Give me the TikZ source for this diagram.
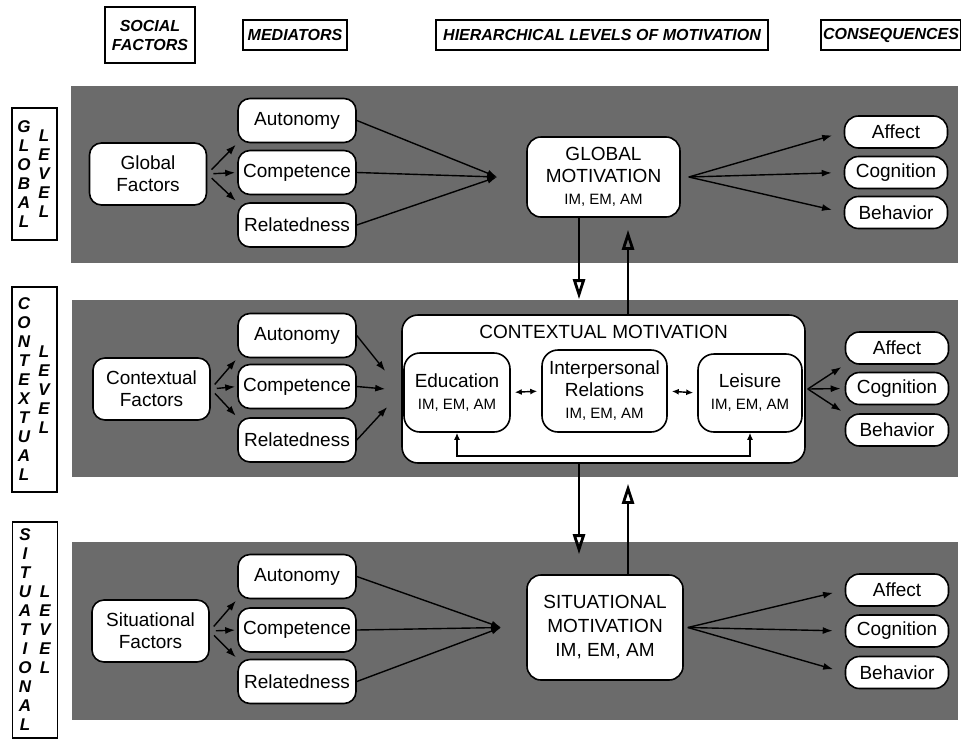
\documentclass[tikz,border=0pt]{standalone}
\usepackage{fontspec}
\setmainfont{Liberation Sans}
\usetikzlibrary{arrows.meta}

\tikzset{
  band/.style={fill=black!58},
  head/.style={draw, line width=0.8pt, align=center, inner sep=1pt,
    font=\fontsize{8}{9.5}\selectfont\bfseries\itshape},
  lvlbox/.style={draw, line width=0.8pt, fill=white, minimum width=22.5pt},
  lvltxt/.style={align=center, inner sep=0pt,
    font=\fontsize{8.5}{9.5}\selectfont\bfseries\itshape},
  box/.style={draw, fill=white, rounded corners=6pt, line width=0.8pt,
    align=center, inner sep=1pt, font=\fontsize{9.5}{11}\selectfont},
  fac/.style={box, minimum width=58.5pt, minimum height=31pt},
  med/.style={box, minimum width=59pt, minimum height=22pt},
  cons/.style={box, minimum width=51.5pt, minimum height=16pt, rounded corners=7pt},
  mot/.style={box, rounded corners=7pt},
  sub/.style={box, rounded corners=8pt},
  fan/.style={-{Latex[length=5pt,width=3.5pt]}, line width=0.7pt},
  twin/.style={{Latex[length=3.5pt,width=3pt]}-{Latex[length=3.5pt,width=3pt]}, line width=0.7pt},
  vflow/.style={-{Triangle[open,length=10pt,width=6pt]}, line width=1.4pt},
}

\begin{document}
\begin{tikzpicture}[x=0.5pt,y=-0.5pt]
  \useasboundingbox (0,0) rectangle (961,739);

  \node[head, minimum width=45pt, minimum height=28pt] (hsoc) at (150,35) {SOCIAL\\FACTORS};
  \node[head, minimum width=52pt, minimum height=15pt] (hmed) at (295,35) {MEDIATORS};
  \node[head, minimum width=166pt, minimum height=15pt] (hhier) at (602,35) {HIERARCHICAL LEVELS OF MOTIVATION};
  \node[head, minimum width=68pt, minimum height=15pt] (hcons) at (891,35) {CONSEQUENCES};

  \fill[band] (71,86) rectangle (958,263);
  \fill[band] (72,300) rectangle (958,477);
  \fill[band] (72,542) rectangle (958,720);

  \node[lvlbox, minimum height=66pt] (lglob) at (34.5,174) {};
  \node[lvltxt] (lglobA) at (24,174) {G\\L\\O\\B\\A\\L};
  \node[lvltxt] (lglobB) at (44,174) {L\\E\\V\\E\\L};
  \node[lvlbox, minimum height=102.5pt] (lctx) at (34.5,389.5) {};
  \node[lvltxt] (lctxA) at (24,389.5) {C\\O\\N\\T\\E\\X\\T\\U\\A\\L};
  \node[lvltxt] (lctxB) at (44,389.5) {L\\E\\V\\E\\L};
  \node[lvlbox, minimum height=108pt] (lsit) at (35,630) {};
  \node[lvltxt] (lsitA) at (25,630) {S\\I\\T\\U\\A\\T\\I\\O\\N\\A\\L};
  \node[lvltxt] (lsitB) at (45,630) {L\\E\\V\\E\\L};

  % global level
  \node[fac] (gfac) at (148,174) {Global\\Factors};
  \node[med] (gaut) at (297,120.5) {Autonomy};
  \node[med] (gcom) at (297,172.5) {Competence};
  \node[med] (grel) at (297,225) {Relatedness};
  \node[mot, minimum width=76.5pt, minimum height=40pt] (gm) at (603.5,177)
    {GLOBAL\\MOTIVATION\\{\fontsize{7.5}{9}\selectfont IM, EM, AM}};
  \node[cons] (gaff) at (896,132) {Affect};
  \node[cons] (gcog) at (896,172.5) {Cognition};
  \node[cons] (gbeh) at (896,212.5) {Behavior};
  \coordinate (gin) at ([xshift=-14.5pt]gm.west);
  \coordinate (gout) at ([xshift=4pt]gm.east);

  % contextual level
  \node[fac] (cfac) at (151.5,389) {Contextual\\Factors};
  \node[med] (caut) at (297,335.5) {Autonomy};
  \node[med] (ccom) at (297,386.5) {Competence};
  \node[med] (crel) at (297,440) {Relatedness};
  \node[box, rounded corners=8pt, minimum width=201.5pt, minimum height=74pt] (ctx) at (603.5,389) {};
  \node[font=\fontsize{9.5}{11}\selectfont] (ctit) at (603.5,332) {CONTEXTUAL MOTIVATION};
  \node[sub, minimum width=53pt, minimum height=39.5pt] (edu) at (457,392.5)
    {Education\\{\fontsize{7.5}{9}\selectfont IM, EM, AM}};
  \node[sub, minimum width=62.5pt, minimum height=41pt] (ipr) at (604.5,391)
    {Interpersonal\\Relations\\{\fontsize{7.5}{9}\selectfont IM, EM, AM}};
  \node[sub, minimum width=52pt, minimum height=39pt] (leis) at (750,393)
    {Leisure\\{\fontsize{7.5}{9}\selectfont IM, EM, AM}};
  \node[cons] (caff) at (897,348) {Affect};
  \node[cons] (ccog) at (897,388.5) {Cognition};
  \node[cons] (cbeh) at (897,430) {Behavior};
  \coordinate (cin1) at ([shift={(-8pt,9pt)}]ctx.west);
  \coordinate (cin2) at ([xshift=-8pt]ctx.west);
  \coordinate (cin3) at ([shift={(-7pt,-9pt)}]ctx.west);
  \coordinate (cout) at ([xshift=1pt]ctx.east);

  % situational level
  \node[fac] (sfac) at (150.5,631) {Situational\\Factors};
  \node[med] (saut) at (297,576.5) {Autonomy};
  \node[med] (scom) at (297,630) {Competence};
  \node[med] (srel) at (297,681.5) {Relatedness};
  \node[mot, minimum width=78pt, minimum height=52.5pt, font=\fontsize{9.5}{12}\selectfont] (sm) at (605,627.5)
    {SITUATIONAL\\MOTIVATION\\IM, EM, AM};
  \node[cons] (saff) at (897,590) {Affect};
  \node[cons] (scog) at (897,631) {Cognition};
  \node[cons] (sbeh) at (897,672.5) {Behavior};
  \coordinate (sin) at ([xshift=-12.5pt]sm.west);
  \coordinate (sout) at ([xshift=2pt]sm.east);

  \begin{scope}[fan, shorten <=3pt, shorten >=1pt]
    \draw (gfac.east) -- (gaut.south west);
    \draw (gfac.east) -- (gcom.west);
    \draw (gfac.east) -- (grel.north west);
    \draw (cfac.east) -- (caut.south west);
    \draw (cfac.east) -- (ccom.west);
    \draw (cfac.east) -- (crel.north west);
    \draw (sfac.east) -- (saut.south west);
    \draw (sfac.east) -- (scom.west);
    \draw (sfac.east) -- (srel.north west);
  \end{scope}

  \begin{scope}[fan]
    \draw (gaut.east) -- (gin);
    \draw (gcom.east) -- (gin);
    \draw (grel.east) -- (gin);
    \draw (caut.east) -- (cin1);
    \draw (ccom.east) -- (cin2);
    \draw (crel.east) -- (cin3);
    \draw (saut.east) -- (sin);
    \draw (scom.east) -- (sin);
    \draw (srel.east) -- (sin);
  \end{scope}

  \begin{scope}[fan, shorten >=6pt]
    \draw (gout) -- (gaff.west);
    \draw (gout) -- (gcog.west);
    \draw (gout) -- (gbeh.west);
    \draw (sout) -- (saff.west);
    \draw (sout) -- (scog.west);
    \draw (sout) -- (sbeh.west);
  \end{scope}

  \begin{scope}[fan, shorten >=2pt]
    \draw (cout) -- (caff.south west);
    \draw (cout) -- (ccog.west);
    \draw (cout) -- (cbeh.north west);
  \end{scope}

  \draw[twin, shorten <=2pt, shorten >=2pt] (edu.east) -- (ipr.west);
  \draw[twin, shorten <=2pt, shorten >=2pt] (ipr.east) -- (leis.west);
  \draw[twin] (edu.south) -- ++(0,23) -| (leis.south);

  \draw[vflow, shorten >=7.5pt] ([xshift=-12.25pt]gm.south) -- ([xshift=-12.25pt]ctx.north);
  \draw[vflow, shorten >=6pt] ([xshift=12.25pt]ctx.north) -- ([xshift=12.25pt]gm.south);
  \draw[vflow, shorten >=10pt] ([xshift=-12.25pt]ctx.south) -- ([xshift=-12.25pt]ctx.south |- sm.north);
  \draw[vflow, shorten >=10pt] ([xshift=12.25pt]ctx.south |- sm.north) -- ([xshift=12.25pt]ctx.south);
\end{tikzpicture}
\end{document}
